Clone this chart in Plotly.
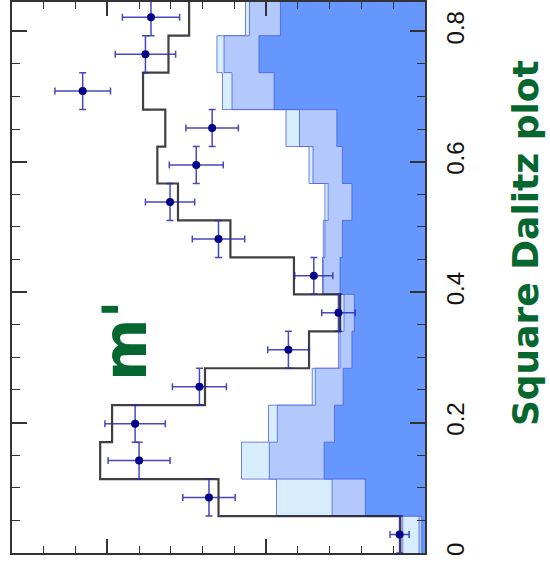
import numpy as np
import plotly.graph_objects as go

# ---- data ----
m_lo, m_hi, n_bins = 0.0, 0.85, 15
total_fit = [3.1, 26.0, 40.9, 39.4, 27.7, 14.6, 10.7, 16.5, 24.5, 31.1, 33.7, 32.7, 35.5, 32.3, 29.7]
data_vals = [3.2, 27.2, 36.0, 36.5, 28.4, 17.2, 10.9, 14.0, 26.0, 32.1, 28.8, 26.8, 43.1, 35.2, 34.5]
data_errs = [1.2, 3.3, 3.9, 3.8, 3.4, 2.6, 2.1, 2.4, 3.3, 3.1, 3.4, 3.3, 3.5, 3.8, 3.6]
bkg_dark = [0.4, 7.5, 12.7, 11.4, 10.3, 9.2, 8.9, 10.7, 10.4, 9.2, 10.4, 11.1, 19.0, 20.9, 18.2]
bkg_medium = [0.35, 4.2, 6.9, 7.2, 3.5, 1.5, 1.3, 2.1, 2.2, 3.0, 3.7, 4.7, 5.3, 4.4, 3.9]
bkg_light = [2.05, 7.0, 3.5, 1.1, 0.4, 0.2, 0.4, 0.1, 0.2, 0.4, 0.5, 1.7, 1.2, 0.9, 0.5]
m_ticks = [0, 0.2, 0.4, 0.6, 0.8]
m_ticklabels = ["0", "0.2", "0.4", "0.6", "0.8"]

edges = np.linspace(m_lo, m_hi, n_bins + 1)
bw = edges[1] - edges[0]
centers = 0.5 * (edges[:-1] + edges[1:])


def step_path(vals):
    v = np.asarray(vals, dtype=float)
    xs = np.repeat(v, 2)
    ys = np.column_stack([edges[:-1], edges[1:]]).ravel()
    return xs, ys


c_dark = np.array(bkg_dark)
c_med = c_dark + np.array(bkg_medium)
c_light = c_med + np.array(bkg_light)

fig = go.Figure()
edge_col = "rgba(70,90,215,0.75)"
for cum, col in [(c_light, "#d8eeff"), (c_med, "#b3c8fd"), (c_dark, "#6597fe")]:
    xs, ys = step_path(cum)
    fig.add_trace(go.Scatter(x=xs, y=ys, mode="lines", fill="tozerox", fillcolor=col,
                             line=dict(color=edge_col, width=1), hoverinfo="skip",
                             showlegend=False))

xs, ys = step_path(total_fit)
fig.add_trace(go.Scatter(x=xs, y=ys, mode="lines", line=dict(color="rgba(30,30,30,0.85)", width=2.2),
                         showlegend=False))

fig.add_trace(go.Scatter(
    x=data_vals, y=centers, mode="markers",
    marker=dict(color="#000088", size=8),
    error_x=dict(type="data", array=data_errs, color="rgba(40,40,175,0.85)", thickness=1.5, width=3.5),
    error_y=dict(type="constant", value=bw / 2, color="rgba(40,40,175,0.85)", thickness=1.5, width=3.5),
    showlegend=False))

fig.update_layout(
    width=550, height=567,
    margin=dict(l=12, r=125, t=0, b=14),
    paper_bgcolor="white", plot_bgcolor="white",
    xaxis=dict(range=[52, 0], showgrid=False, zeroline=False, showticklabels=False,
               ticks="inside", dtick=20, tick0=0, ticklen=14, tickwidth=1.5, tickcolor="#333",
               minor=dict(dtick=4, ticklen=7, ticks="inside", tickcolor="#333", tickwidth=1.2),
               showline=True, linecolor="#333", linewidth=1.5, mirror="ticks"),
    yaxis=dict(range=[0, 0.845], side="right", showgrid=False, zeroline=False,
               tickvals=m_ticks, ticktext=m_ticklabels, tickangle=-90,
               tickfont=dict(family="Liberation Sans", size=24, color="#111"),
               ticks="inside", ticklen=15, tickwidth=1.5, tickcolor="#333",
               minor=dict(dtick=0.05, tick0=0, ticklen=8, ticks="inside", tickcolor="#333", tickwidth=1.2),
               showline=True, linecolor="#333", linewidth=1.5, mirror="ticks",
               ticklabelstandoff=8),
    annotations=[
        dict(text="<b>Square Dalitz plot</b>", xref="paper", yref="paper", x=1.244, y=0.562,
             xanchor="center", yanchor="middle", textangle=-90, showarrow=False,
             font=dict(family="DejaVu Sans", size=36, color="#05672f")),
        dict(text="<b>m'</b>", xref="paper", yref="paper", x=0.274, y=0.385,
             xanchor="center", yanchor="middle", textangle=-90, showarrow=False,
             font=dict(family="DejaVu Sans", size=60, color="#05672f")),
    ],
)

fig.write_html("out.html")
